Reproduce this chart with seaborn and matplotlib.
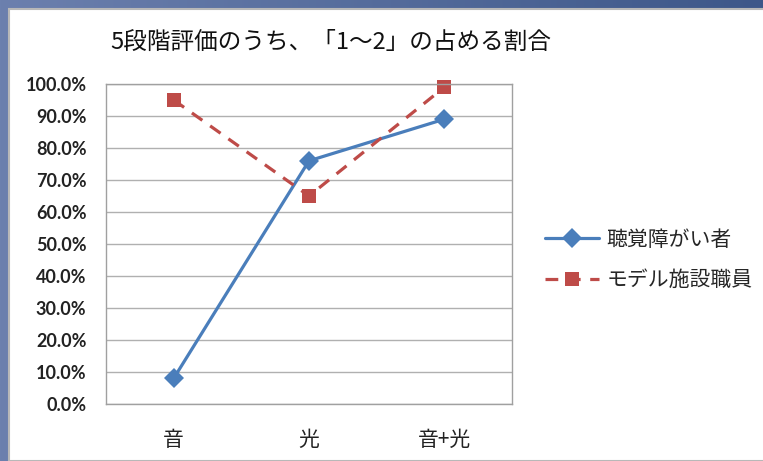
import numpy as np
import pandas as pd
import seaborn as sns
import matplotlib.pyplot as plt
from matplotlib.patches import Rectangle
from matplotlib.colors import LinearSegmentedColormap

# Data (share of ratings "1-2", in %)
categories = ['音', '光', '音+光']
hearing = [8.0, 76.0, 89.0]     # 聴覚障がい者
staff = [95.0, 65.0, 99.0]      # モデル施設職員
series_names = ['聴覚障がい者', 'モデル施設職員']
y_ticks = np.arange(0, 101, 10)

df = pd.DataFrame({
    'cat': categories * 2,
    'value': hearing + staff,
    'group': [series_names[0]] * 3 + [series_names[1]] * 3,
})

sns.set_style('white')
plt.rcParams['font.family'] = ['Noto Sans CJK JP', 'DejaVu Sans']

fig = plt.figure(figsize=(7.63, 4.61), dpi=100)
W, H = 763, 461

# blue slide-style frame behind the chart
bg = fig.add_axes([0, 0, 1, 1], zorder=-10)
grad = np.linspace(0, 1, 256).reshape(1, -1)
cmap = LinearSegmentedColormap.from_list('frame', ['#6c80ae', '#3d5789'])
bg.imshow(grad, aspect='auto', cmap=cmap, extent=[0, 1, 0, 1])
bg.add_patch(Rectangle((9 / W, 0), 1, 1 - 9 / H, facecolor='white',
                       edgecolor='#b8b8b8', linewidth=1.5, transform=bg.transAxes))
bg.set_axis_off()

ax = fig.add_axes([106 / W, 57 / H, 406 / W, 320 / H])
colors = {series_names[0]: '#4a7ebb', series_names[1]: '#be4b48'}
sns.lineplot(data=df, x='cat', y='value', hue='group', style='group',
             palette=colors, markers={series_names[0]: 'D', series_names[1]: 's'},
             dashes={series_names[0]: '', series_names[1]: (4, 3)},
             markersize=10, linewidth=2.3, markeredgewidth=0, sort=False, ax=ax)
for line in ax.lines:
    line.set_clip_on(False)

ax.set_xlim(-0.5, 2.5)
ax.set_ylim(0, 100)
ax.set_yticks(y_ticks)
ax.set_yticklabels([f'{v:.1f}%' for v in y_ticks], fontsize=13, fontweight='bold',
                   color='#222222', family=['Lato', 'DejaVu Sans'])
ax.set_xticks(range(len(categories)))
ax.set_xticklabels(categories, fontsize=15, color='#222222')
ax.tick_params(axis='y', length=0, pad=14)
ax.tick_params(axis='x', length=0, pad=18)
ax.set_xlabel('')
ax.set_ylabel('')
ax.yaxis.grid(True, color='#b0b0b0', linewidth=1)
for s in ax.spines.values():
    s.set_color('#a0a0a0')
    s.set_linewidth(1)

ax.legend(loc='center left', bbox_to_anchor=(545 / W, 1 - 260 / H), bbox_transform=fig.transFigure,
          frameon=False, fontsize=15, handlelength=2.6, handletextpad=0.35, labelspacing=0.9,
          borderaxespad=0, borderpad=0, title=None)

fig.text(331 / W, 1 - 42 / H, '5段階評価のうち、「1～2」の占める割合', ha='center', va='center',
         fontsize=17, color='#111111')

fig.savefig('out.png', dpi=100)
